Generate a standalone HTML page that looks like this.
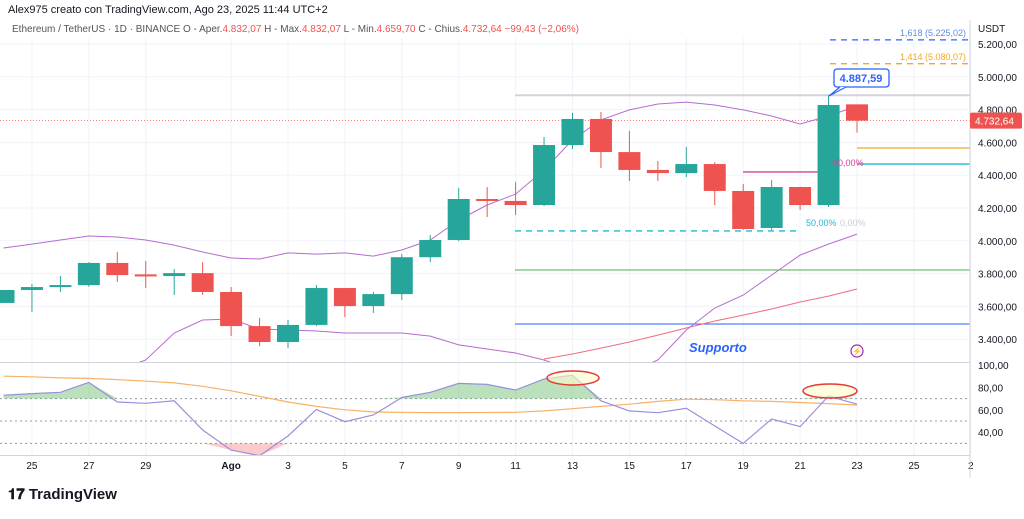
<!DOCTYPE html>
<html><head><meta charset="utf-8"><style>
body{margin:0;background:#fff;font-family:"Liberation Sans",sans-serif;}
svg text{font-family:"Liberation Sans",sans-serif;}
</style></head><body>
<svg id="c" width="1024" height="514" xmlns="http://www.w3.org/2000/svg">
<defs><clipPath id="mainClip"><rect x="0" y="38" width="970" height="324"/></clipPath>
<clipPath id="rsiClip"><rect x="0" y="364" width="970" height="92"/></clipPath></defs>
<text x="8" y="13" font-size="11" fill="#131722">Alex975 creato con TradingView.com, Ago 23, 2025 11:44 UTC+2</text>
<text x="12" y="32" font-size="10" fill="#555">Ethereum / TetherUS · 1D · BINANCE  O - Aper.<tspan fill="#ef5350">4.832,07</tspan>  H - Max.<tspan fill="#ef5350">4.832,07</tspan>  L - Min.<tspan fill="#ef5350">4.659,70</tspan>  C - Chius.<tspan fill="#ef5350">4.732,64  −99,43 (−2,06%)</tspan></text>
<text x="978" y="32" font-size="10" fill="#131722">USDT</text>
<g id="grid"></g><g id="main" clip-path="url(#mainClip)"></g><g id="rsi" clip-path="url(#rsiClip)"></g><g id="axes"></g>
<text x="8" y="499" font-size="15" font-weight="bold" fill="#131722">𝟏𝟕 TradingView</text>
</svg>
<script>
const days=['24','25','26','27','28','29','30','31','Ago','2','3','4','5','6','7','8','9','10','11','12','13','14','15','16','17','18','19','20','21','22','23'];
const opens=[3621,3700,3718,3730,3865,3795,3785,3803,3688,3480,3383,3487,3712,3602,3675,3900,4005,4255,4243,4218,4584,4743,4541,4432,4413,4468,4304,4078,4328,4218,4832];
const highs=[3700,3737,3785,3870,3932,3877,3828,3870,3718,3530,3517,3730,3712,3688,3920,4035,4322,4328,4358,4633,4780,4785,4670,4487,4572,4480,4346,4370,4330,4887.59,4832];
const lows=[3621,3566,3688,3720,3749,3712,3670,3670,3420,3358,3346,3480,3535,3560,3640,3870,3998,4145,4157,4212,4560,4444,4365,4365,4389,4218,4066,4066,4188,4206,4660];
const closes=[3700,3718,3730,3865,3791,3790,3803,3688,3480,3383,3487,3712,3602,3675,3900,4005,4255,4243,4218,4584,4743,4541,4432,4413,4468,4304,4072,4328,4218,4828,4732.64];
const bbUpper=[3956,3980,4005,4029,4023,4005,3974,3932,3895,3889,3926,3919,3926,3907,3944,4005,4127,4218,4285,4432,4615,4737,4798,4834,4846,4828,4798,4761,4712,4761,4822];
const bbLower=[3029,3060,3090,3151,3212,3273,3438,3517,3523,3462,3456,3450,3438,3438,3438,3419,3365,3340,3316,3273,3212,3163,3200,3273,3456,3590,3669,3791,3913,3980,4041];
const maRed=[null,null,null,null,null,null,null,null,null,null,null,null,null,null,null,null,null,null,null,3279,3310,3346,3383,3425,3468,3511,3547,3584,3627,3663,3706];
const rsiVals=[73,74.5,75.6,84.5,67,65.8,68,42,24,19,36.6,60.4,49.4,55.4,71,75.6,83.6,82.7,77.7,87.5,91,68,59,57.4,61.3,45.5,30,51.8,45,72.3,65];
const rsiMA=[90,89.5,88.5,88,87,85.5,84,81,77,72,67,63,60,58,57.7,57.5,57.5,57.6,57.8,59,61,63,65,67.5,69.5,69,68,67.5,66.5,65.5,64.3];
const priceTicks=[5200,5000,4800,4600,4400,4200,4000,3800,3600,3400];
const rsiTicks=[100,80,60,40];
const timeLabels=[['25',1],['27',3],['29',5],['Ago',8],['3',10],['5',12],['7',14],['9',16],['11',18],['13',20],['15',22],['17',24],['19',26],['21',28],['23',30],['25',32],['2',34]];
const NS='http://www.w3.org/2000/svg';
const X=i=>3.5+i*28.45, Y=p=>44+(5200-p)*0.164, R=v=>365+(100-v)*1.12;
const fmt=v=>v.toFixed(2).replace('.',',').replace(/\B(?=(\d{3})+(?!\d))/g,'.');
function mk(parent,tag,attrs,text){const e=document.createElementNS(NS,tag);for(const k in attrs)e.setAttribute(k,attrs[k]);if(text!==undefined)e.textContent=text;document.getElementById(parent).appendChild(e);return e;}
priceTicks.forEach(p=>{const e=mk('grid','line',{x1:0,x2:970,y1:Y(p),y2:Y(p),stroke:'#f0f3fa'});


const t=mk('axes','text',{x:978,y:Y(p)+4,'font-size':10,fill:'#131722'},fmt(p));

});
timeLabels.forEach(([l,i])=>{const e=mk('grid','line',{x1:X(i),x2:X(i),y1:38,y2:455,stroke:'#f0f3fa'});


const t=mk('axes','text',{x:X(i),y:469,'font-size':10,fill:'#131722','text-anchor':'middle','font-weight':l==='Ago'?'bold':'normal'},l);

});
rsiTicks.forEach(v=>{const t=mk('axes','text',{x:978,y:R(v)+4,'font-size':10,fill:'#131722'},fmt(v));

});
[['axes','line',{x1:970,x2:970,y1:20,y2:478,stroke:'#d1d4dc'}],['axes','line',{x1:0,x2:970,y1:362.5,y2:362.5,stroke:'#d1d4dc'}],['axes','line',{x1:0,x2:970,y1:455.5,y2:455.5,stroke:'#d1d4dc'}]].forEach(a=>{const e=mk(...a);

});
const levels=[[4887.59,515,970,'#d1d4dc','none',2,'high-level-line'],[4732.64,0,970,'#ef5350','1 2',0.8,'last-price-line'],[4060,515,800,'#22b8cf','6 5',1.3,'fib-50-dashed-line'],[3822,515,970,'#4caf50','none',1,'support-green-line'],[3493,515,970,'#2962ff','none',1,'support-blue-line'],[4420,743,829,'#d0459a','none',1.3,'fib-pink-line'],[4566,857,970,'#f5a623','none',1.3,'orange-level-line'],[4468,857,970,'#22b8cf','none',1.3,'cyan-level-line'],[5225.02,830,970,'#2962ff','6 5',1.3,'fib-1618-line'],[5080.07,830,970,'#f5a623','6 5',1.3,'fib-1414-line']];
levels.forEach(([p,x1,x2,c,d,w,n])=>{const e=mk('main','line',{x1,x2,y1:Y(p),y2:Y(p),stroke:c,'stroke-dasharray':d,'stroke-width':w});

});
function path(g,arr,f,color,name,w){let d='';arr.forEach((v,i)=>{if(v===null)return;d+=(d?'L':'M')+X(i).toFixed(1)+','+f(v).toFixed(1);});const e=mk(g,'path',{d,fill:'none',stroke:color,'stroke-width':w||1});

}
path('main',bbUpper,Y,'#b56ccf','bb-upper-band');
path('main',bbLower,Y,'#b56ccf','bb-lower-band');
path('main',maRed,Y,'#f06b7f','moving-average-line');
opens.forEach((o,i)=>{const c=closes[i],up=c>=o,col=up?'#26a69a':'#ef5350';
const w=mk('main','line',{x1:X(i),x2:X(i),y1:Y(highs[i]),y2:Y(lows[i]),stroke:col});


const b=mk('main','rect',{x:X(i)-11,y:Y(Math.max(o,c)),width:22,height:Math.max(2,Math.abs(Y(o)-Y(c))),fill:col});

});
[[833,166,'50,00%','#d0459a'],[806,226,'50,00%','#22b8cf'],[840,226,'0,00%','#c8cbd3']].forEach(([x,y,t,c])=>{const e=mk('main','text',{x,y,'font-size':9,fill:c},t);

});
[[966,36,'1,618 (5.225,02)','#5b8def'],[966,60,'1,414 (5.080,07)','#f5a623']].forEach(([x,y,t,c])=>{const e=mk('axes','text',{x,y,'font-size':9,fill:c,'text-anchor':'end'},t);

});
const cb=mk('main','rect',{x:834,y:69,width:55,height:18,rx:3,fill:'#fff',stroke:'#2962ff','stroke-width':1.3});


const cp=mk('main','path',{d:'M840,87 L829,96 L846,87',fill:'#fff',stroke:'#2962ff','stroke-width':1.2});


const ct=mk('main','text',{x:861,y:82,'font-size':11,'font-weight':'bold',fill:'#2962ff','text-anchor':'middle'},'4.887,59');


const st=mk('main','text',{x:689,y:352,'font-size':13,'font-weight':'bold','font-style':'italic',fill:'#2962ff'},'Supporto');


const li=mk('main','circle',{cx:857,cy:351,r:6,fill:'#fff',stroke:'#9c27b0','stroke-width':1.2});


const lt=mk('main','text',{x:857,y:354,'font-size':8,fill:'#9c27b0','text-anchor':'middle'},'⚡');


const pt=mk('axes','rect',{x:970,y:Y(4732.64)-8,width:52,height:16,rx:2,fill:'#ef5350'});


const ptt=mk('axes','text',{x:975,y:Y(4732.64)+4,'font-size':10,fill:'#fff'},'4.732,64');


[70,50,30].forEach(v=>{const e=mk('rsi','line',{x1:0,x2:970,y1:R(v),y2:R(v),stroke:'#9598a1','stroke-dasharray':'2 3'});

});
let up='M'+X(0)+','+R(70),dn='M'+X(0)+','+R(30);
rsiVals.forEach((v,i)=>{up+='L'+X(i)+','+R(Math.max(v,70));dn+='L'+X(i)+','+R(Math.min(v,30));});
up+='L'+X(rsiVals.length-1)+','+R(70)+'Z';dn+='L'+X(rsiVals.length-1)+','+R(30)+'Z';
const fu=mk('rsi','path',{d:up,fill:'#66bb6a','fill-opacity':0.45});


const fd=mk('rsi','path',{d:dn,fill:'#ef5350','fill-opacity':0.3});


path('rsi',rsiMA,R,'#f7b267','rsi-ma-line',1.2);
path('rsi',rsiVals,R,'#9b8fdc','rsi-line',1.2);
[[573,378,26,7],[830,391,27,7]].forEach(([cx,cy,rx,ry])=>{const e=mk('rsi','ellipse',{cx,cy,rx,ry,fill:'#fffbcc','fill-opacity':0.6,stroke:'#e53935','stroke-width':1.5});

});
</script>
</body></html>
